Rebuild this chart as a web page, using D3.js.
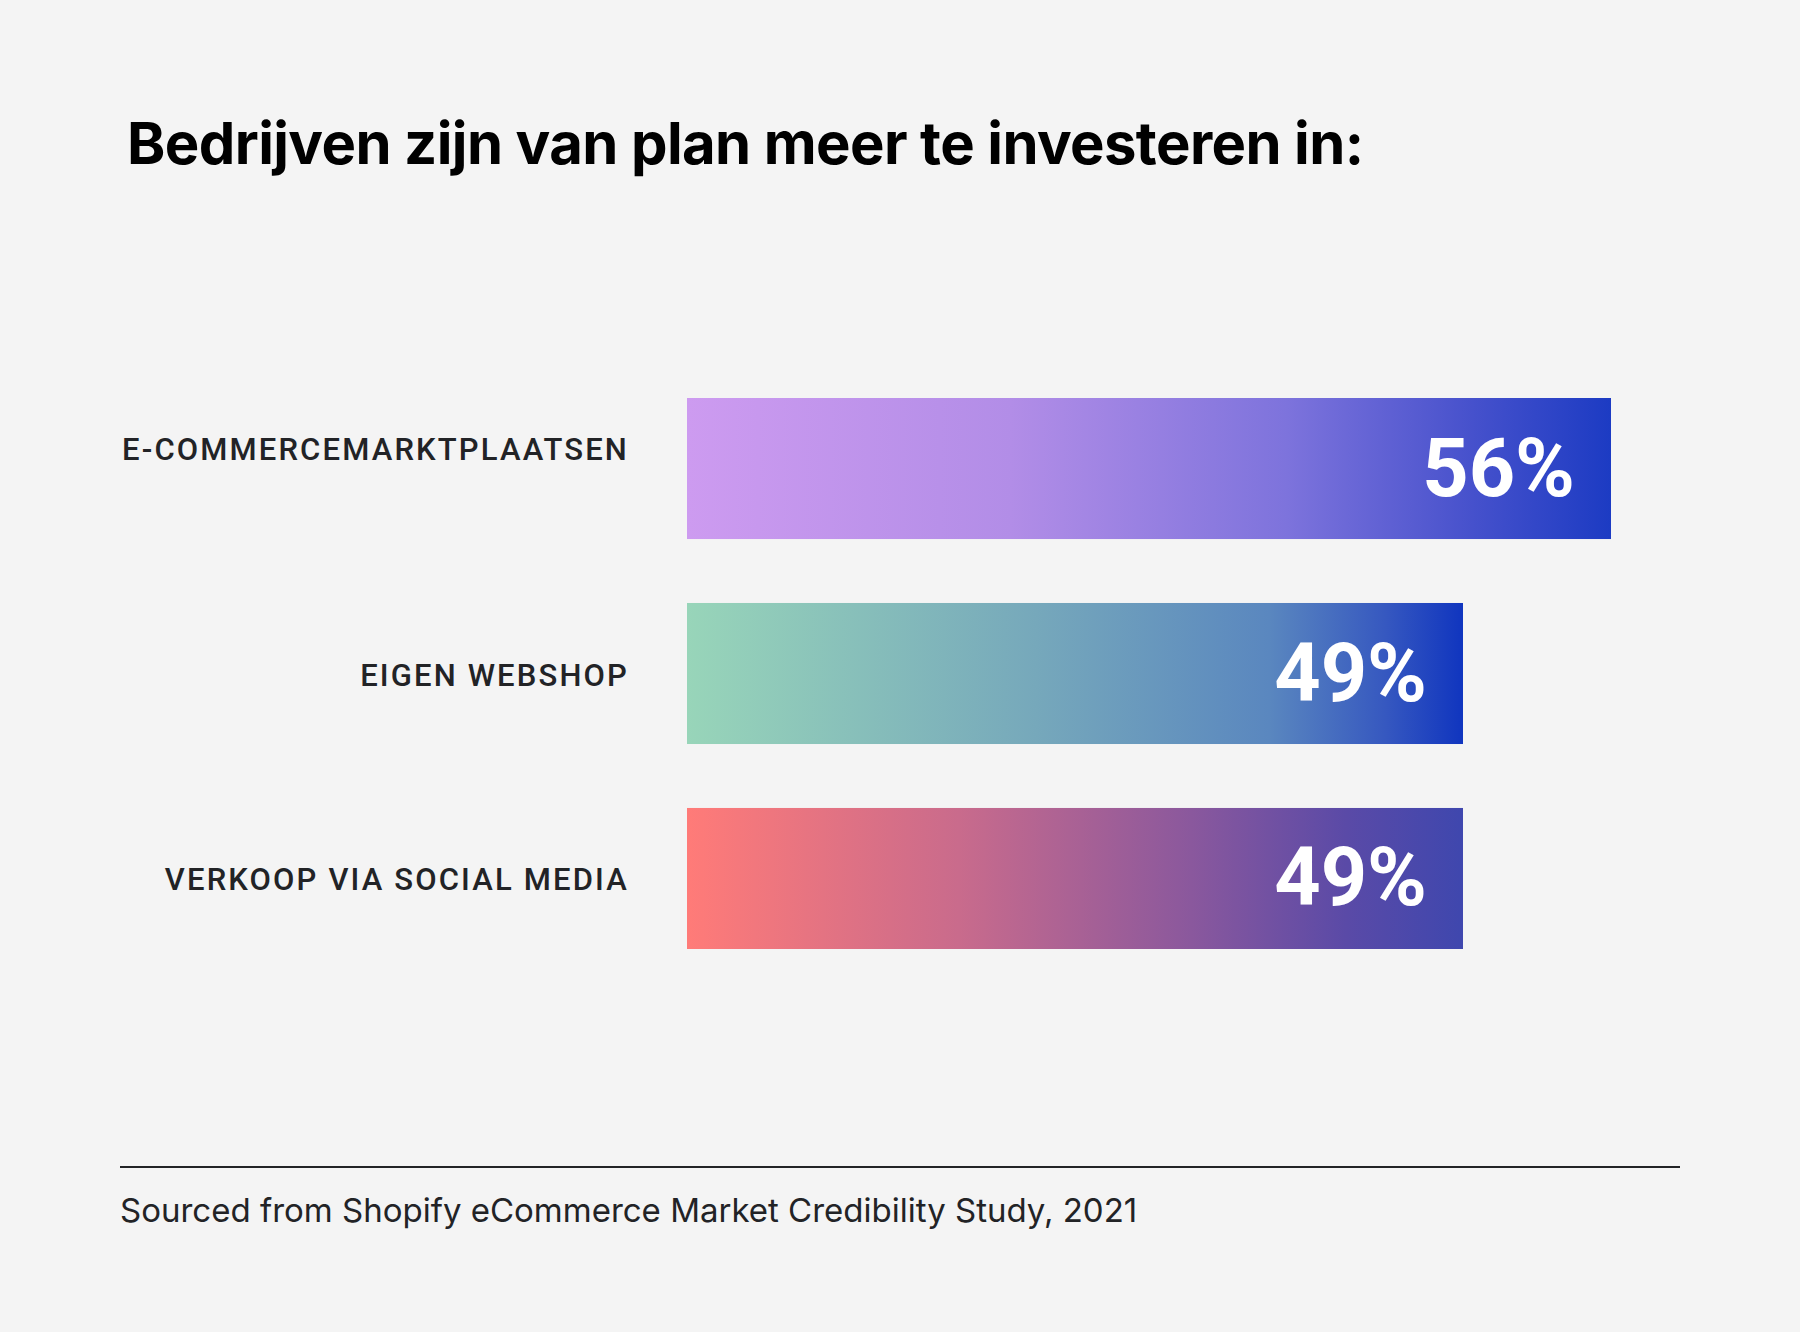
<!DOCTYPE html>
<html>
<head>
<meta charset="utf-8">
<script src="https://cdn.jsdelivr.net/npm/d3@7"></script>
<style>
  html, body { margin: 0; padding: 0; background: #f4f4f4; }
  svg { display: block; }
</style>
</head>
<body>
<svg id="chart" width="1800" height="1332"></svg>
<script>
const titleText = "Bedrijven zijn van plan meer te investeren in:";
const categories = ["E-COMMERCEMARKTPLAATSEN", "EIGEN WEBSHOP", "VERKOOP VIA SOCIAL MEDIA"];
const values = [56, 49, 49];
const valueLabels = ["56%", "49%", "49%"];
const sourceText = "Sourced from Shopify eCommerce Market Credibility Study, 2021";
const gradientStops = [
  [["0%", "#cd9bf0"], ["35%", "#b28de7"], ["65%", "#7d73dc"], ["85%", "#4651cc"], ["100%", "#1c3bc3"]],
  [["0%", "#98d5b9"], ["45%", "#76a8bb"], ["75%", "#5a87bf"], ["90%", "#3658c0"], ["100%", "#1035bf"]],
  [["0%", "#ff7b78"], ["35%", "#c96b8c"], ["65%", "#8a589d"], ["85%", "#5a4aa7"], ["100%", "#3f47ae"]]
];
const labelShift = [-21, 0, 0];

const svg = d3.select("#chart");
svg.append("rect").attr("width", 1800).attr("height", 1332).attr("fill", "#f4f4f4");

// title
svg.append("text")
  .attr("x", 127).attr("y", 164)
  .attr("font-family", "Inter, 'Noto Sans', sans-serif")
  .attr("font-weight", 700)
  .attr("font-size", 58)
  .attr("letter-spacing", -0.6)
  .attr("fill", "#000")
  .text(titleText);

const axisStart = 12.3;
const x = d3.scaleLinear().domain([axisStart, 56]).range([687, 1611]);
const y = d3.scaleBand().domain(categories).range([398, 949]).paddingInner(0.312).paddingOuter(0);

const defs = svg.append("defs");
gradientStops.forEach((stops, i) => {
  const g = defs.append("linearGradient").attr("id", "grad" + i)
    .attr("x1", "0%").attr("y1", "0%").attr("x2", "100%").attr("y2", "0%");
  stops.forEach(s => g.append("stop").attr("offset", s[0]).attr("stop-color", s[1]));
});

const rows = svg.append("g").selectAll("g").data(categories).join("g");

rows.append("rect")
  .attr("x", x(axisStart))
  .attr("y", d => y(d))
  .attr("width", (d, i) => x(values[i]) - x(axisStart))
  .attr("height", y.bandwidth())
  .attr("fill", (d, i) => `url(#grad${i})`);

rows.append("text")
  .attr("x", 629)
  .attr("y", (d, i) => y(d) + y.bandwidth() / 2 + 12 + labelShift[i])
  .attr("text-anchor", "end")
  .attr("font-family", "Roboto, 'Noto Sans', sans-serif")
  .attr("font-weight", 500)
  .attr("font-size", 31)
  .attr("letter-spacing", 2.15)
  .attr("fill", "#222326")
  .text(d => d);

rows.append("text")
  .attr("x", (d, i) => x(values[i]) - 36)
  .attr("y", d => y(d) + y.bandwidth() / 2 + 27)
  .attr("text-anchor", "end")
  .attr("font-family", "Roboto, 'Noto Sans', sans-serif")
  .attr("font-weight", 700)
  .attr("font-size", 81)
  .attr("fill", "#ffffff")
  .text((d, i) => valueLabels[i]);

// footer rule
svg.append("line")
  .attr("x1", 120).attr("x2", 1680)
  .attr("y1", 1167).attr("y2", 1167)
  .attr("stroke", "#222326").attr("stroke-width", 2);

svg.append("text")
  .attr("x", 120).attr("y", 1222)
  .attr("font-family", "Inter, 'Noto Sans', sans-serif")
  .attr("font-weight", 400)
  .attr("font-size", 33)
  .attr("fill", "#222326")
  .text(sourceText);
</script>
</body>
</html>
